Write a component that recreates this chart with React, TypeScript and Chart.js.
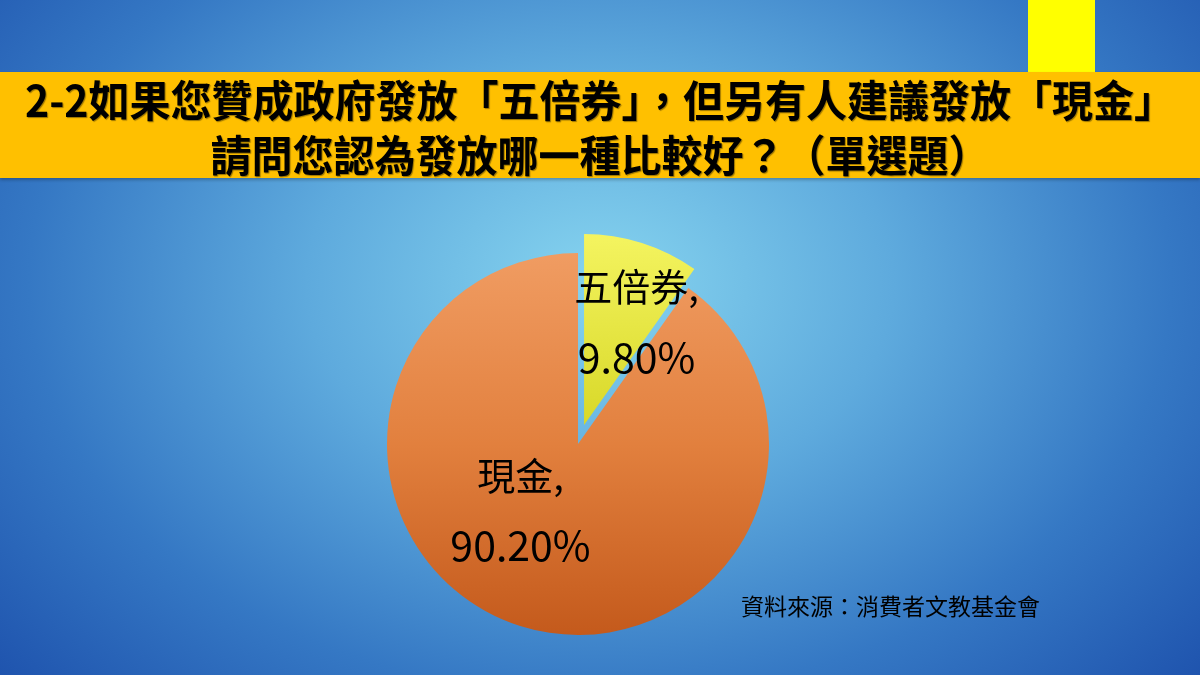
import React, { useEffect, useRef } from 'react';
import { Chart } from 'chart.js/auto';

const categories = ['五倍券', '現金'];
const shares = [9.8, 90.2];
// how far each slice is pulled out of the pie, px
const explode = [20, 0];

const CJK = '"Noto Sans CJK TC", "Noto Sans", sans-serif';

// where each label sits inside its slice: fraction of slice angle, fraction of radius
const labelPlacement = [
  { a: 0.766, r: 0.605 },
  { a: 0.571, r: 0.462 },
];

const midShift = (arc: any, i: number) => {
  const { startAngle, endAngle } = arc.getProps(['startAngle', 'endAngle'], true);
  const mid = (startAngle + endAngle) / 2;
  return { dx: Math.cos(mid) * explode[i], dy: Math.sin(mid) * explode[i] };
};

// draws the arcs with the exploded slice shifted out along its middle angle
const explodedSlices = {
  id: 'explodedSlices',
  beforeDatasetDraw(chart: any, args: any) {
    const { ctx } = chart;
    args.meta.data.forEach((arc: any, i: number) => {
      const { dx, dy } = midShift(arc, i);
      ctx.save();
      ctx.translate(dx, dy);
      arc.draw(ctx);
      ctx.restore();
    });
    return false;
  },
};

const sliceLabels = {
  id: 'sliceLabels',
  afterDraw(chart: any) {
    const { ctx } = chart;
    const meta = chart.getDatasetMeta(0);
    ctx.save();
    ctx.fillStyle = '#000';
    ctx.textAlign = 'center';
    ctx.textBaseline = 'middle';
    meta.data.forEach((arc: any, i: number) => {
      const { x, y, startAngle, endAngle, outerRadius } = arc.getProps(
        ['x', 'y', 'startAngle', 'endAngle', 'outerRadius'], true);
      const { dx, dy } = midShift(arc, i);
      const p = labelPlacement[i];
      const ang = startAngle + (endAngle - startAngle) * p.a;
      const lx = x + dx + Math.cos(ang) * outerRadius * p.r;
      const ly = y + dy + Math.sin(ang) * outerRadius * p.r;
      ctx.font = `38px ${CJK}`;
      ctx.fillText(`${categories[i]},`, lx, ly - 35);
      ctx.font = `41px ${CJK}`;
      ctx.fillText(`${shares[i].toFixed(2)}%`, lx, ly + 35);
    });
    ctx.restore();
  },
};

const App: React.FC = () => {
  const canvasRef = useRef<HTMLCanvasElement>(null);

  useEffect(() => {
    if (!canvasRef.current) return;
    const chart = new Chart(canvasRef.current, {
      type: 'pie',
      data: {
        labels: categories,
        datasets: [{
          data: shares,
          borderWidth: 0,
          hoverBorderWidth: 0,
          hoverOffset: 0,
          clip: false,
          backgroundColor: (c: any) => {
            const { chart: ch, dataIndex } = c;
            const area = ch.chartArea;
            if (!area) return dataIndex === 0 ? '#e8e840' : '#e08040';
            const g = ch.ctx.createLinearGradient(0, area.top, 0, area.bottom);
            if (dataIndex === 0) {
              g.addColorStop(0, '#f4f460');
              g.addColorStop(0.5, '#d8d828');
              g.addColorStop(1, '#c4c414');
            } else {
              g.addColorStop(0, '#f09c62');
              g.addColorStop(0.5, '#e2803e');
              g.addColorStop(1, '#c45a1c');
            }
            return g;
          },
        }],
      },
      options: {
        animation: false,
        responsive: true,
        maintainAspectRatio: false,
        layout: { padding: 40 },
        events: [],
        plugins: {
          legend: { display: false },
          tooltip: { enabled: false },
        },
      },
      plugins: [explodedSlices, sliceLabels],
    });
    return () => chart.destroy();
  }, []);

  return (
    <div style={{
      position: 'fixed', left: 0, top: 0, width: 1200, height: 675, overflow: 'hidden',
      background: 'radial-gradient(ellipse 70% 90% at 50% 42%, #86d4ef 0%, #5eaadd 35%, #3578c4 68%, #1c4fab 100%)',
      fontFamily: CJK,
    }}>
      <div style={{ position: 'absolute', left: 1028, top: 0, width: 67, height: 72, background: '#ffff00' }} />
      <div style={{
        position: 'absolute', left: 0, top: 72, width: 1200, height: 106, background: '#ffc000',
        boxShadow: '0 2px 3px rgba(0,0,0,0.25)',
      }}>
        <div style={{
          textAlign: 'center', fontWeight: 700, fontSize: 41, lineHeight: '52px', paddingTop: 1,
          color: '#000', textShadow: '1px 1px 1px rgba(0,0,0,0.4)', whiteSpace: 'nowrap',
          transform: 'scaleY(1.06)',
        }}>
          <div>2-2如果您贊成政府發放「五倍券」，但另有人建議發放「現金」</div>
          <div>請問您認為發放哪一種比較好？（單選題）</div>
        </div>
      </div>
      <div style={{ position: 'absolute', left: 347, top: 213, width: 462, height: 462 }}>
        <canvas ref={canvasRef} />
      </div>
      <div style={{
        position: 'absolute', left: 741, top: 590, fontSize: 23, lineHeight: '30px', color: '#000',
        whiteSpace: 'nowrap',
      }}>
        資料來源：消費者文教基金會
      </div>
    </div>
  );
};

export default App;
